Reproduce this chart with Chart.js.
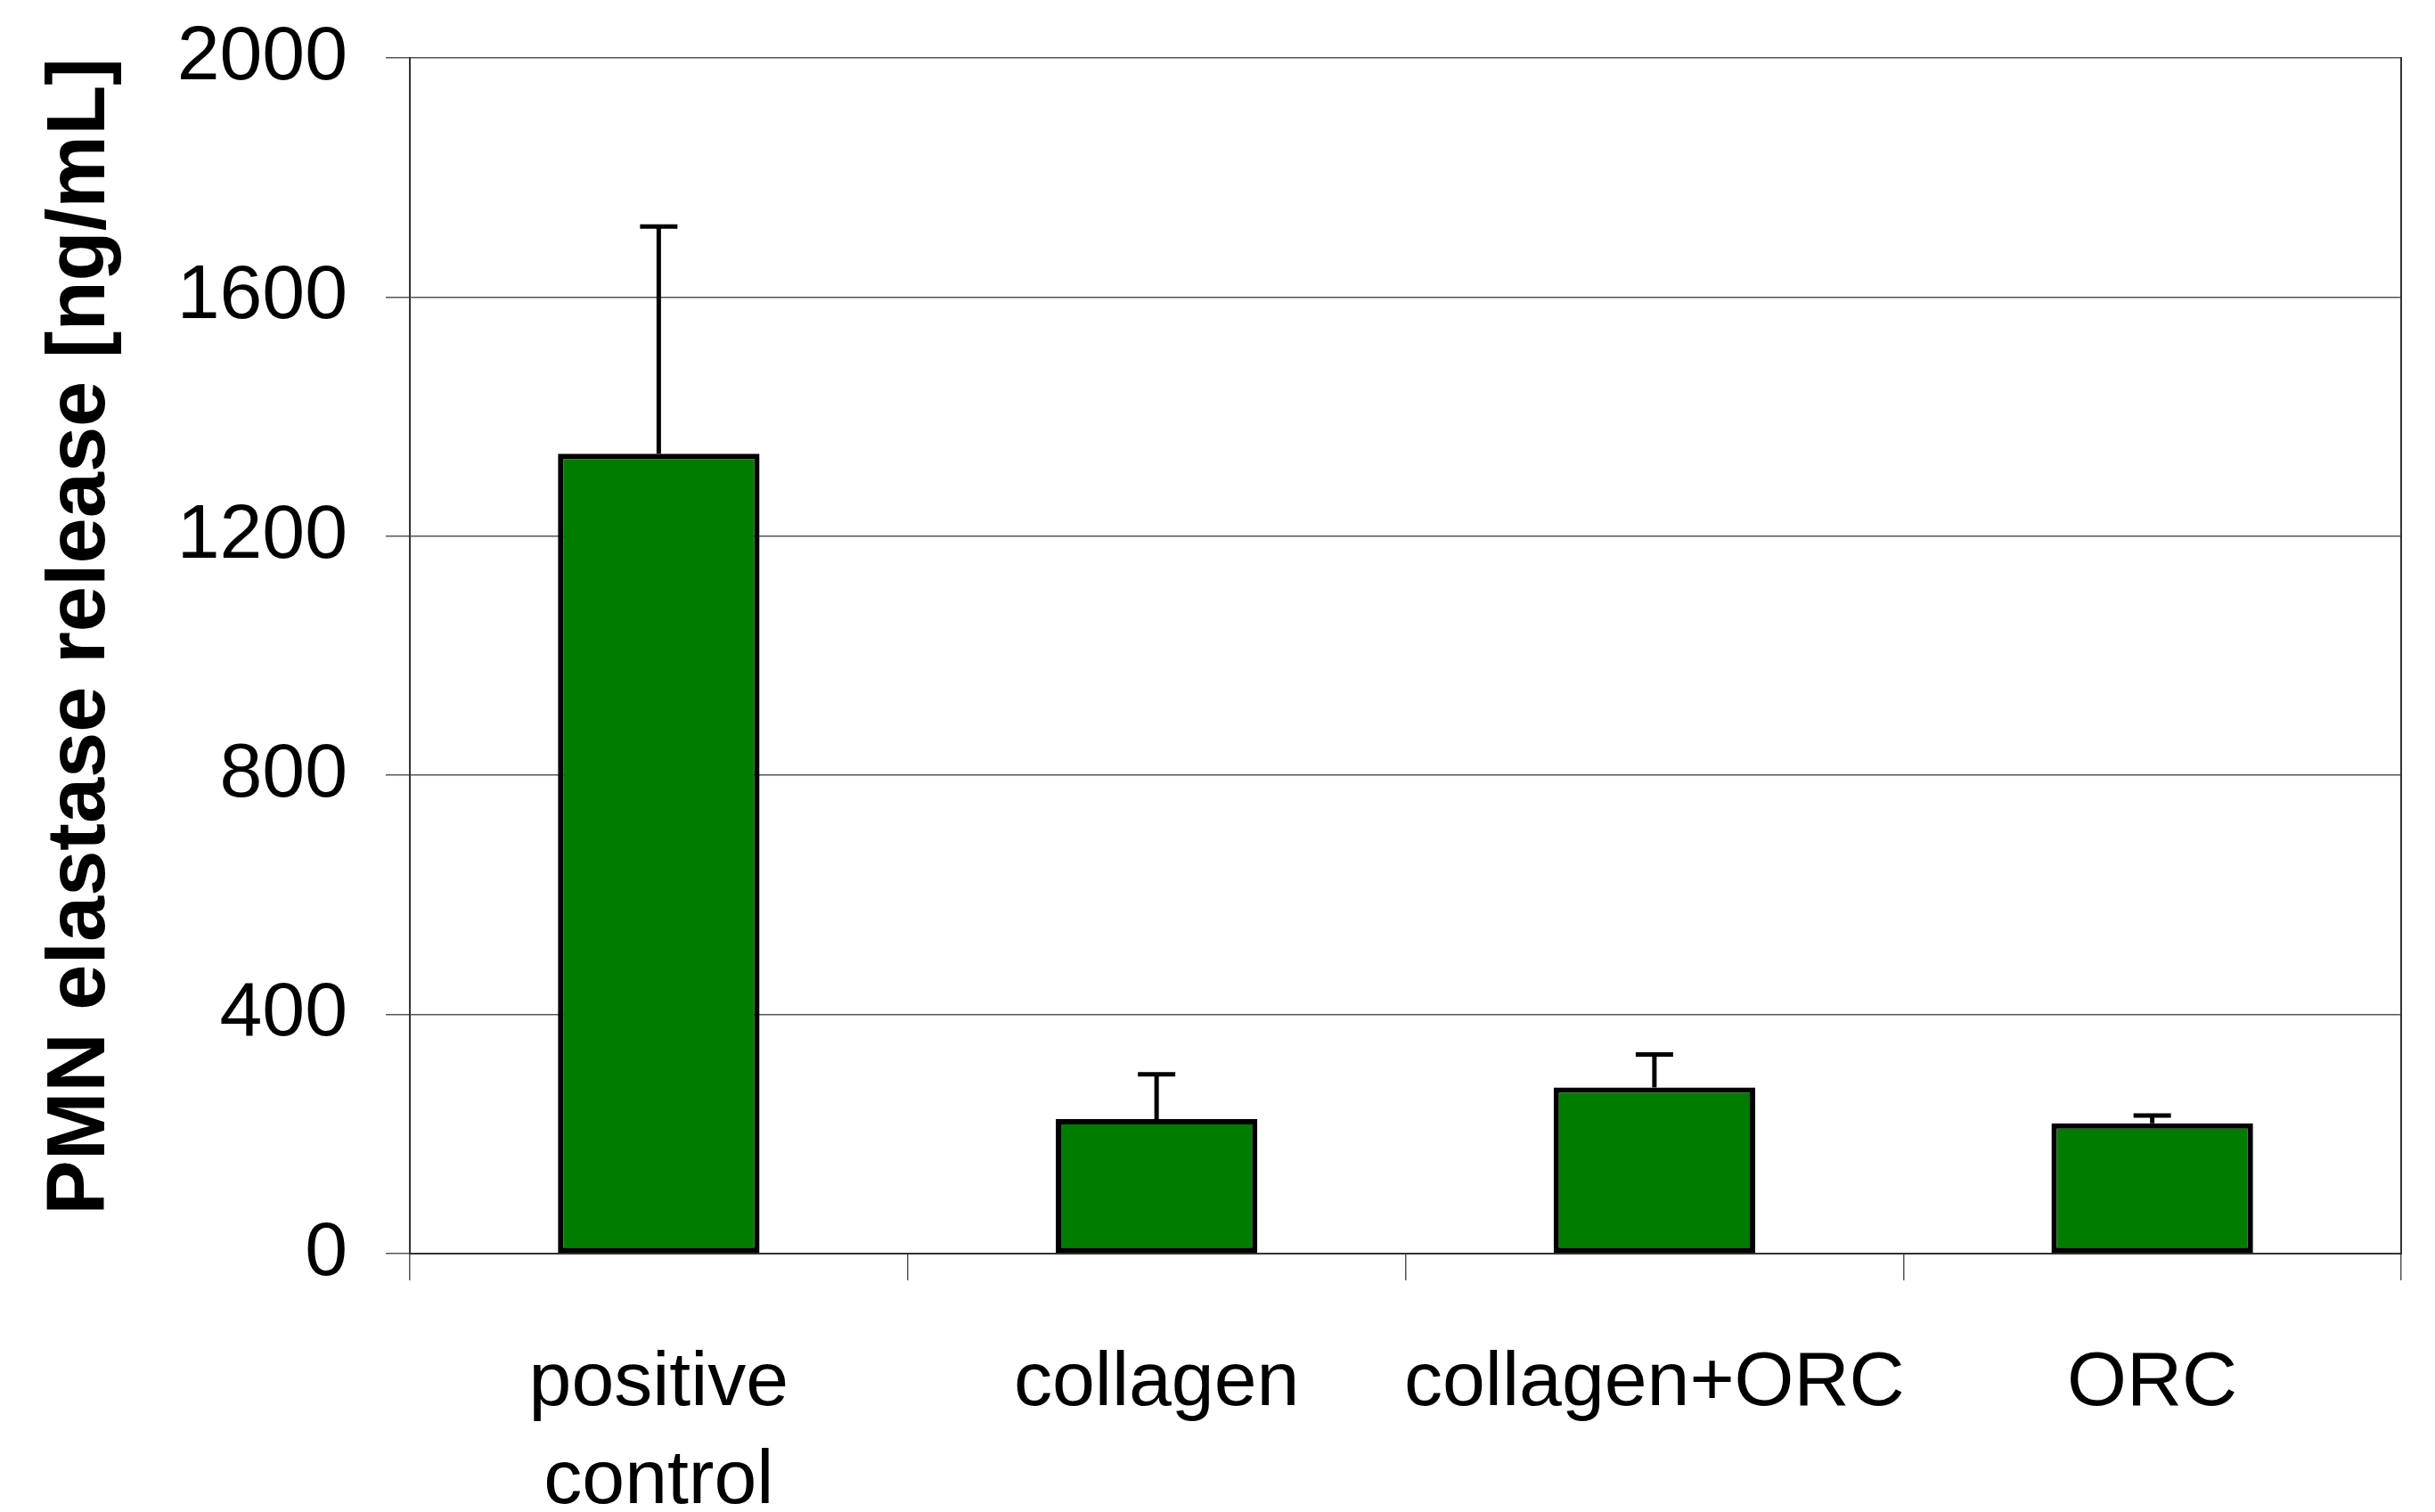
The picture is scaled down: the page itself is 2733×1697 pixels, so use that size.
<!DOCTYPE html>
<html><head><meta charset="utf-8">
<script src="https://cdn.jsdelivr.net/npm/chart.js@4.4.1/dist/chart.umd.min.js"></script>
<style>html,body{margin:0;padding:0;background:#fff;overflow:hidden;}</style>
</head><body>
<canvas id="c" width="2733" height="1697" style="display:block;width:2733px;height:1697px"></canvas>
<script>
// ---- data ----
const categories = [["positive", "control"], "collagen", "collagen+ORC", "ORC"];
const elastaseValues = [1338, 225, 278, 218];
const errorUpper = [380, 75, 55, 13];
const yTicks = [0, 400, 800, 1200, 1600, 2000];
const yTitle = "PMN elastase release [ng/mL]";

const errorBarPlugin = {
  id: 'errorBars',
  afterDatasetsDraw(chart) {
    const meta = chart.getDatasetMeta(0);
    const ys = chart.scales.y;
    const ctx = chart.ctx;
    ctx.save();
    ctx.strokeStyle = '#000';
    ctx.lineCap = 'butt';
    meta.data.forEach((bar, i) => {
      const top = ys.getPixelForValue(elastaseValues[i] + errorUpper[i]);
      ctx.lineWidth = 5;
      ctx.beginPath(); ctx.moveTo(bar.x, bar.y); ctx.lineTo(bar.x, top); ctx.stroke();
      ctx.lineWidth = 5;
      ctx.beginPath(); ctx.moveTo(bar.x - 21, top); ctx.lineTo(bar.x + 21, top); ctx.stroke();
    });
    ctx.restore();
  }
};

new Chart(document.getElementById('c'), {
  type: 'bar',
  data: {
    labels: categories,
    datasets: [{
      data: elastaseValues,
      backgroundColor: '#007c00',
      borderColor: '#000',
      borderWidth: 6,
      borderSkipped: false,
      categoryPercentage: 1,
      barPercentage: 0.405
    }]
  },
  options: {
    responsive: false,
    animation: false,
    devicePixelRatio: 1,
    layout: { padding: { top: 65, right: 38, left: 0, bottom: 0 } },
    plugins: { legend: { display: false }, tooltip: { enabled: false } },
    scales: {
      x: {
        offset: true,
        grid: { display: true, drawOnChartArea: false, drawTicks: true, tickLength: 30, color: '#555', lineWidth: 1.5, offset: true },
        border: { display: true, color: '#333', width: 2 },
        ticks: {
          color: '#000',
          padding: 61,
          maxRotation: 0,
          autoSkip: false,
          font: { family: "'Liberation Sans Narrow', 'Liberation Sans', Arial, sans-serif", size: 86, lineHeight: 1.28 }
        },
        afterFit(scale) { scale.height = 290; }
      },
      y: {
        min: 0, max: 2000,
        afterBuildTicks(scale) { scale.ticks = yTicks.map(v => ({ value: v })); },
        grid: { color: '#555', lineWidth: 1.5, tickLength: 27, drawTicks: true },
        border: { display: true, color: '#333', width: 2 },
        ticks: {
          color: '#000',
          padding: 43,
          callback: (v) => String(v),
          font: { family: "'Liberation Sans', Arial, sans-serif", size: 86 }
        },
        title: {
          display: true,
          text: yTitle,
          align: 'end',
          color: '#000',
          padding: { top: 36, bottom: 0 },
          font: { family: "'Liberation Sans', Arial, sans-serif", size: 92, weight: 'bold', lineHeight: 1.2 }
        },
        afterFit(scale) { scale.width = 460; scale.paddingTop = 0; scale.paddingBottom = 0; }
      },
      y2: {
        position: 'right',
        display: true,
        min: 0, max: 2000,
        ticks: { display: false },
        grid: { display: false, drawTicks: false },
        border: { display: true, color: '#333', width: 2 },
        afterFit(scale) { scale.width = 0; scale.paddingTop = 0; scale.paddingBottom = 0; }
      }
    }
  },
  plugins: [errorBarPlugin]
});
</script>
</body></html>
